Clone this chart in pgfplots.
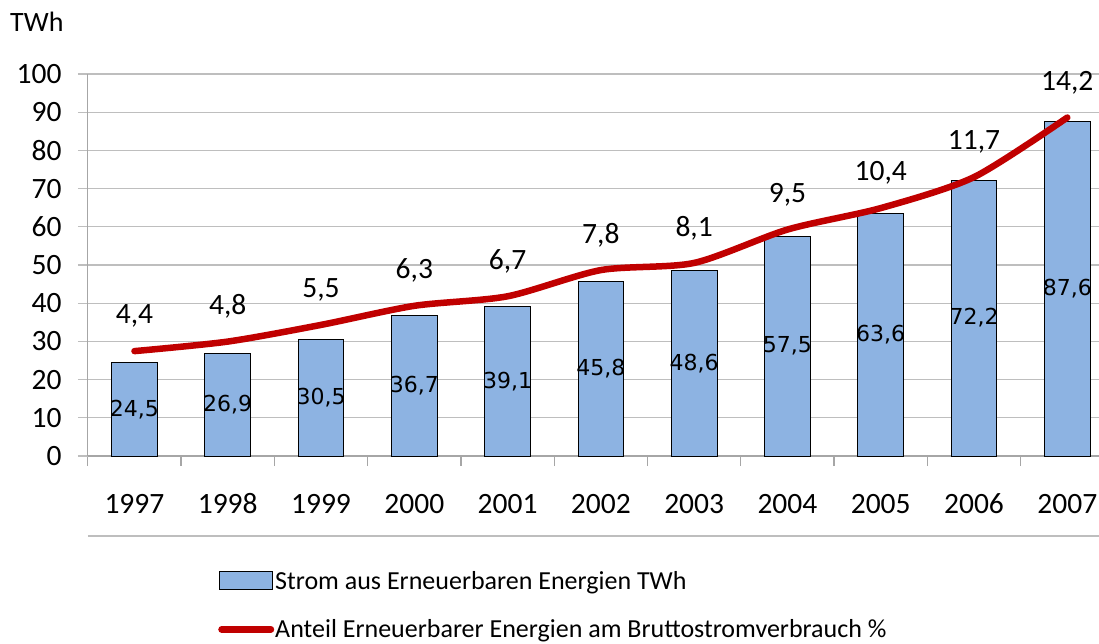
\documentclass[border=0pt]{standalone}
\usepackage{pgfplots}
\pgfplotsset{compat=1.18}
\usepackage{fontspec}
\setmainfont{Carlito}
\newfontfamily\barfont{DejaVu Sans}
\definecolor{barblue}{HTML}{8DB3E2}
\definecolor{linered}{HTML}{C00000}
\definecolor{gridgray}{HTML}{BEBEBE}
\definecolor{axgray}{HTML}{A6A6A6}
\pgfplotstableread{
x twh
0 24.5
1 26.9
2 30.5
3 36.7
4 39.1
5 45.8
6 48.6
7 57.5
8 63.6
9 72.2
10 87.6
}\twhdata
\pgfplotstableread{
x pct
0 4.4
1 4.8
2 5.5
3 6.3
4 6.7
5 7.8
6 8.1
7 9.5
8 10.4
9 11.7
10 14.2
}\pctdata
\begin{document}
\begin{tikzpicture}
\useasboundingbox (-87.8pt,-187pt) rectangle (1011.2pt,456pt);
\begin{axis}[
  at={(0pt,0pt)}, anchor=south west,
  scale only axis, width=1011.2pt, height=382pt,
  xmin=-0.5, xmax=10.34, ymin=0, ymax=100,
  clip=false,
  axis x line*=bottom, axis y line*=left,
  axis line style={draw=axgray, line width=1.3pt, -},
  /pgf/number format/assume math mode=true,
  ytick={0,10,...,100},
  ymajorgrids, grid style={gridgray, line width=1.3pt},
  xtick={0,...,10},
  xticklabels={1997,1998,1999,2000,2001,2002,2003,2004,2005,2006,2007},
  minor xtick={-0.5,0.5,...,9.5},
  tick align=outside,
  major tick length=10pt, minor tick length=10pt,
  major x tick style={draw=none},
  minor x tick style={draw=axgray, line width=1.3pt},
  major y tick style={draw=gridgray, line width=1.3pt},
  yticklabel style={font=\fontsize{29.5}{29.5}\selectfont, anchor=east, inner sep=0pt, xshift=-16pt},
  xticklabel style={font=\fontsize{29.5}{29.5}\selectfont, anchor=base, inner sep=0pt, yshift=-47pt},
  legend style={at={(axis description cs:0.1288,-0.298)}, anchor=north west, draw=none, fill=none,
    font=\fontsize{26}{26}\selectfont, row sep=27pt, inner sep=0pt,
    nodes={inner sep=1pt}},
  legend cell align=left,
]
\addplot[ybar, bar width=0.49, fill=barblue, draw=black, line width=1pt,
  nodes near coords={\pgfmathprintnumber[use comma,fixed,fixed zerofill,precision=1]{\pgfplotspointmeta}},
  point meta=y,
  visualization depends on={y \as \rawy},
  nodes near coords style={font=\barfont\fontsize{22}{22}\selectfont, anchor=center, text=black, inner sep=0pt,
     shift={(axis direction cs:0,-\rawy/2)}},
  legend image code/.code={\draw[fill=barblue, draw=black, line width=1pt] (0pt,-9pt) rectangle (53pt,9pt);}
] table[x=x, y=twh] {\twhdata};
\addlegendentry{Strom aus Erneuerbaren Energien TWh}
\addlegendimage{legend image code/.code={\draw[linered, line width=7pt, line cap=round] (2pt,0pt) -- (51pt,0pt);}}
\addlegendentry{Anteil Erneuerbarer Energien am Bruttostromverbrauch \%}
\end{axis}
\begin{axis}[
  at={(0pt,0pt)}, anchor=south west,
  scale only axis, width=1011.2pt, height=382pt,
  xmin=-0.5, xmax=10.34, ymin=0, ymax=16.026,
  hide axis, clip=false,
  /pgf/number format/assume math mode=true,
]
\addplot[linered, line width=6.5pt, smooth, tension=0.45, line cap=round, line join=round,
  nodes near coords={\pgfmathprintnumber[use comma,fixed,fixed zerofill,precision=1]{\pgfplotspointmeta}},
  point meta=y,
  nodes near coords style={font=\fontsize{29.5}{29.5}\selectfont, anchor=center, yshift=35pt, text=black, inner sep=0pt}
] table[x=x, y=pct] {\pctdata};
\end{axis}
\node[anchor=west, inner sep=0pt, font=\fontsize{28}{28}\selectfont] at (-77.8pt,434pt) {TWh};
\draw[gridgray, line width=1.3pt] (0pt,-80pt) -- (1011.2pt,-80pt);
\end{tikzpicture}
\end{document}
